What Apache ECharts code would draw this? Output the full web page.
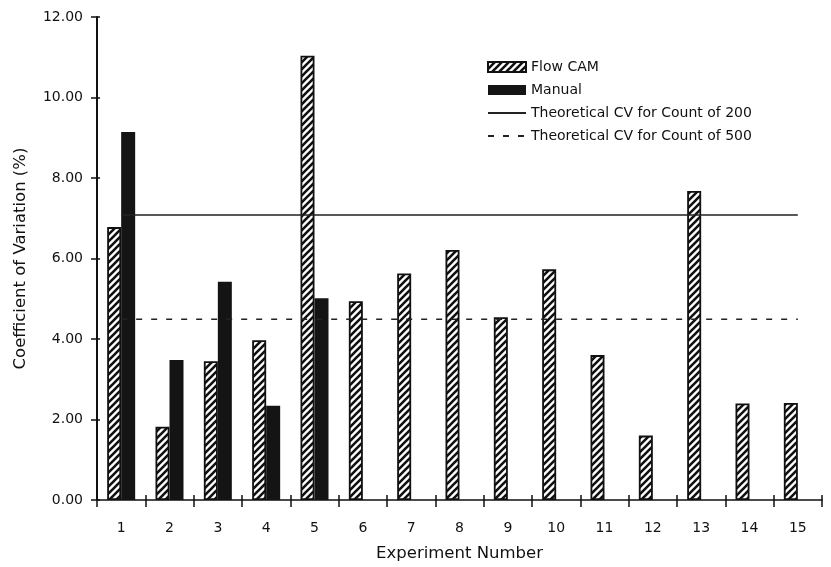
<!DOCTYPE html>
<html>
<head>
<meta charset="utf-8">
<script src="https://cdn.jsdelivr.net/npm/echarts@6/dist/echarts.min.js"></script>
<style>
html,body{margin:0;padding:0;background:#fff;}
#chart{width:831px;height:567px;}
</style>
</head>
<body>
<div id="chart"></div>
<script>
const categories = ['1','2','3','4','5','6','7','8','9','10','11','12','13','14','15'];
const flowCam = [6.78, 1.82, 3.45, 3.97, 11.04, 4.94, 5.63, 6.21, 4.54, 5.73, 3.60, 1.60, 7.68, 2.40, 2.41];
const manual = [9.14, 3.48, 5.42, 2.34, 5.01, null, null, null, null, null, null, null, null, null, null];
const cv200 = [7.08, 7.08, 7.08, 7.08, 7.08, 7.08, 7.08, 7.08, 7.08, 7.08, 7.08, 7.08, 7.08, 7.08, 7.08];
const cv500 = [4.49, 4.49, 4.49, 4.49, 4.49, 4.49, 4.49, 4.49, 4.49, 4.49, 4.49, 4.49, 4.49, 4.49, 4.49];
const yTicks = {min: 0, max: 12, interval: 2};

// hatch pattern ('/' stripes)
const T = 7;
const pc = document.createElement('canvas');
pc.width = T; pc.height = T;
const g = pc.getContext('2d');
g.fillStyle = '#fff'; g.fillRect(0, 0, T, T);
g.strokeStyle = '#111'; g.lineWidth = 2.6; g.lineCap = 'square';
g.beginPath();
g.moveTo(-1, T + 1); g.lineTo(T + 1, -1);
g.moveTo(-1, 1); g.lineTo(1, -1);
g.moveTo(T - 1, T + 1); g.lineTo(T + 1, T - 1);
g.stroke();
const hatch = {image: pc, repeat: 'repeat'};

const FONT = 'DejaVu Sans';
const TXT = '#111';
const chart = echarts.init(document.getElementById('chart'));
chart.setOption({
  animation: false,
  backgroundColor: '#fff',
  grid: {left: 97, right: 9, top: 17, bottom: 67},
  legend: {
    orient: 'vertical',
    left: 482, top: 55,
    itemWidth: 38, itemHeight: 10, itemGap: 9,
    textStyle: {fontFamily: FONT, fontSize: 14, color: TXT},
    data: [
      {name: 'Flow CAM', icon: 'rect'},
      {name: 'Manual', icon: 'rect'},
      {name: 'Theoretical CV for Count of 200', itemStyle: {opacity: 0}},
      {name: 'Theoretical CV for Count of 500', itemStyle: {opacity: 0}}
    ]
  },
  xAxis: [{
    type: 'category', data: categories, position: 'bottom',
    axisLine: {lineStyle: {color: '#111', width: 1.5}},
    axisTick: {show: true, inside: false, length: 7, lineStyle: {color: '#111', width: 1.5}},
    axisLabel: {fontFamily: FONT, fontSize: 14, color: TXT, margin: 21},
    name: 'Experiment Number', nameLocation: 'middle', nameGap: 45,
    nameTextStyle: {fontFamily: FONT, fontSize: 16.5, color: TXT}
  }, {
    type: 'category', data: categories, position: 'bottom',
    axisLine: {show: false},
    axisTick: {show: true, inside: true, length: 5, lineStyle: {color: '#111', width: 1.5}},
    axisLabel: {show: false}
  }],
  yAxis: [{
    type: 'value', min: yTicks.min, max: yTicks.max, interval: yTicks.interval,
    axisLine: {show: true, lineStyle: {color: '#111', width: 2}},
    axisTick: {show: true, inside: false, length: 6, lineStyle: {color: '#111', width: 1.5}},
    splitLine: {show: false},
    axisLabel: {fontFamily: FONT, fontSize: 14, color: TXT, margin: 14, formatter: v => v.toFixed(2)},
    name: 'Coefficient of Variation (%)', nameLocation: 'middle', nameGap: 68,
    nameTextStyle: {fontFamily: FONT, fontSize: 16.5, color: TXT}
  }, {
    type: 'value', min: yTicks.min, max: yTicks.max, interval: yTicks.interval, position: 'left',
    axisLine: {show: false},
    axisTick: {show: true, inside: true, length: 3, lineStyle: {color: '#111', width: 1.5}},
    splitLine: {show: false},
    axisLabel: {show: false}
  }],
  series: [{
    name: 'Flow CAM', type: 'bar', data: flowCam,
    barWidth: 14, barGap: '0%',
    itemStyle: {color: hatch, borderColor: '#111', borderWidth: 1.8},
    z: 2
  }, {
    name: 'Manual', type: 'bar', data: manual,
    barWidth: 14, barGap: '0%',
    itemStyle: {color: '#141414', borderColor: '#141414', borderWidth: 0},
    z: 2
  }, {
    name: 'Theoretical CV for Count of 200', type: 'line', data: cv200,
    symbol: 'none', lineStyle: {color: '#222', width: 1.5, type: 'solid'},
    itemStyle: {color: '#222'}, z: 3
  }, {
    name: 'Theoretical CV for Count of 500', type: 'line', data: cv500,
    symbol: 'none', lineStyle: {color: '#222', width: 1.5, type: [6, 9]},
    itemStyle: {color: '#222'}, z: 3
  }]
});
</script>
</body>
</html>
